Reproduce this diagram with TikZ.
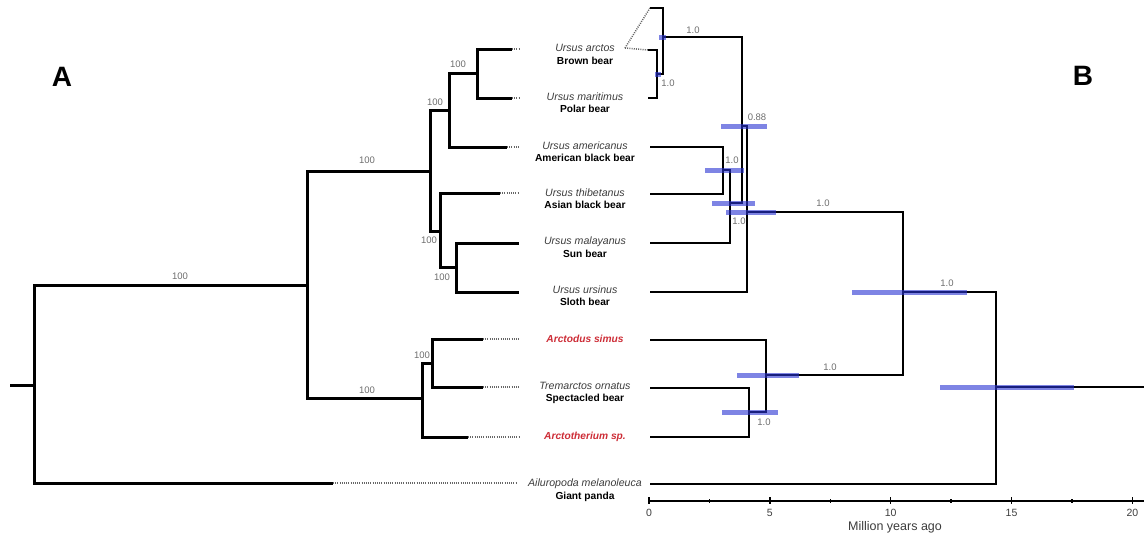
\documentclass[tikz,border=0pt]{standalone}
\usepackage{fontspec}
\setmainfont{Liberation Sans}
\definecolor{barblue}{RGB}{40,50,210}
\definecolor{extinct}{RGB}{205,45,55}
\definecolor{supgray}{RGB}{110,110,110}
\definecolor{namegray}{RGB}{60,60,60}
\newcommand{\hpd}[3]{\fill[hpdfill] (#1,#3-2.5) rectangle (#2,#3+2.5);}
\begin{document}
\begin{tikzpicture}
[x=1pt,y=-1pt,
 treeA/.style={line width=3pt},
 treeB/.style={line width=2.2pt},
 dots/.style={line width=1.5pt,draw=black!60,dash pattern=on 1pt off 1.2pt},
 hpdfill/.style={fill=barblue,opacity=0.6},
 axis/.style={line width=1.4pt},
 sci/.style={inner sep=0pt,text=namegray,font=\fontsize{10.6}{12}\selectfont\itshape},
 common/.style={inner sep=0pt,font=\fontsize{10.2}{12}\selectfont\bfseries},
 fossil/.style={inner sep=0pt,text=extinct,font=\fontsize{10.2}{12}\selectfont\bfseries\itshape},
 sup/.style={inner sep=0pt,text=supgray,font=\fontsize{9.5}{10}\selectfont},
 ticklab/.style={inner sep=0pt,text=namegray,font=\fontsize{10.5}{12}\selectfont},
 panel/.style={inner sep=0pt,font=\fontsize{28}{28}\selectfont\bfseries}]
\useasboundingbox (0,0) rectangle (1144,538);

% panel letters
\node[panel] (pA) at (62,77) {A};
\node[panel] (pB) at (1083,76) {B};

% taxa
\node[sci] (arctos) at (585,48) {Ursus arctos};
\node[common] (arctosC) at (585,61) {Brown bear};
\node[sci] (maritimus) at (585,97) {Ursus maritimus};
\node[common] (maritimusC) at (585,109) {Polar bear};
\node[sci] (americanus) at (585,146) {Ursus americanus};
\node[common] (americanusC) at (585,158) {American black bear};
\node[sci] (thibetanus) at (585,193) {Ursus thibetanus};
\node[common] (thibetanusC) at (585,205) {Asian black bear};
\node[sci] (malayanus) at (585,242) {Ursus malayanus};
\node[common] (malayanusC) at (585,254) {Sun bear};
\node[sci] (ursinus) at (585,290) {Ursus ursinus};
\node[common] (ursinusC) at (585,302) {Sloth bear};
\node[fossil] (arctodus) at (585,339) {Arctodus simus};
\node[sci] (ornatus) at (585,386) {Tremarctos ornatus};
\node[common] (ornatusC) at (585,399) {Spectacled bear};
\node[fossil] (arctotherium) at (585,437) {Arctotherium sp.};
\node[sci] (panda) at (585,484) {Ailuropoda melanoleuca};
\node[common] (pandaC) at (585,497) {Giant panda};

% tree A
\coordinate (stubA) at (10,385);
\coordinate (a0) at (34,385);
\coordinate (a1) at (307,285);
\coordinate (a2) at (430,171);
\coordinate (a3) at (449,110);
\coordinate (a4) at (477,73);
\coordinate (a5) at (440,231);
\coordinate (a6) at (456,267);
\coordinate (a7) at (422,398);
\coordinate (a8) at (432,363);
\coordinate (arctosA) at (512,49);
\coordinate (maritimusA) at (512,98);
\coordinate (americanusA) at (507,147);
\coordinate (thibetanusA) at (500,193);
\coordinate (malayanusA) at (519,243);
\coordinate (ursinusA) at (519,292);
\coordinate (arctodusA) at (483,339);
\coordinate (ornatusA) at (483,387);
\coordinate (arctotheriumA) at (468,437);
\coordinate (pandaA) at (333,483);
\draw [treeA] (stubA) -- (a0);
\draw [treeA] (a0) |- (a1) (a0) |- (pandaA);
\draw [treeA] (a1) |- (a2) (a1) |- (a7);
\draw [treeA] (a2) |- (a3) (a2) |- (a5);
\draw [treeA] (a3) |- (a4) (a3) |- (americanusA);
\draw [treeA] (a4) |- (arctosA) (a4) |- (maritimusA);
\draw [treeA] (a5) |- (thibetanusA) (a5) |- (a6);
\draw [treeA] (a6) |- (malayanusA) (a6) |- (ursinusA);
\draw [treeA] (a7) |- (a8) (a7) |- (arctotheriumA);
\draw [treeA] (a8) |- (arctodusA) (a8) |- (ornatusA);
\draw [dots] (arctosA) -- ++(7,0);
\draw [dots] (maritimusA) -- ++(7,0);
\draw [dots] (americanusA) -- ++(12,0);
\draw [dots] (thibetanusA) -- ++(19,0);
\draw [dots] (arctodusA) -- ++(37,0);
\draw [dots] (ornatusA) -- ++(37,0);
\draw [dots] (arctotheriumA) -- ++(52,0);
\draw [dots] (pandaA) -- ++(183,0);
\node[sup] (sA1) at (180,276) {100};
\node[sup] (sA2) at (367,160) {100};
\node[sup] (sA3) at (435,102) {100};
\node[sup] (sA4) at (458,64) {100};
\node[sup] (sA5) at (429,240) {100};
\node[sup] (sA6) at (442,277) {100};
\node[sup] (sA7) at (367,390) {100};
\node[sup] (sA8) at (422,355) {100};

% tree B
\coordinate (arctosB0) at (625,48);
\coordinate (arctosB1) at (648,50);
\coordinate (arctosB2) at (650,8);
\coordinate (maritimusB) at (648,98);
\coordinate (americanusB) at (650,147);
\coordinate (thibetanusB) at (650,194);
\coordinate (malayanusB) at (650,243);
\coordinate (ursinusB) at (650,292);
\coordinate (arctodusB) at (650,340);
\coordinate (ornatusB) at (650,388);
\coordinate (arctotheriumB) at (650,437);
\coordinate (pandaB) at (650,484);
\coordinate (bBP) at (657,74);
\coordinate (bArc) at (663,37);
\coordinate (bAT) at (723,170);
\coordinate (bATM) at (730,203);
\coordinate (b088) at (742,126);
\coordinate (bUrs) at (747,212);
\coordinate (bUT) at (903,292);
\coordinate (bTA) at (749,412);
\coordinate (bTr) at (766,375);
\coordinate (bRoot) at (996,387);
\coordinate (bStem) at (1144,387);
\draw [dots] (arctosB0) -- (arctosB1);
\draw [dots] (arctosB0) -- (arctosB2);
\draw [treeB] (bBP) |- (arctosB1) (bBP) |- (maritimusB);
\draw [treeB] (bArc) |- (arctosB2) (bArc) |- (bBP);
\draw [treeB] (bAT) |- (americanusB) (bAT) |- (thibetanusB);
\draw [treeB] (bATM) |- (bAT) (bATM) |- (malayanusB);
\draw [treeB] (b088) |- (bArc) (b088) |- (bATM);
\draw [treeB] (bUrs) |- (b088) (bUrs) |- (ursinusB);
\draw [treeB] (bTA) |- (ornatusB) (bTA) |- (arctotheriumB);
\draw [treeB] (bTr) |- (arctodusB) (bTr) |- (bTA);
\draw [treeB] (bUT) |- (bUrs) (bUT) |- (bTr);
\draw [treeB] (bRoot) |- (bUT) (bRoot) |- (pandaB);
\draw [treeB] (bRoot) -- (bStem);
% age intervals
\hpd{659}{666}{37}
\hpd{655}{661}{74}
\hpd{705}{744}{170}
\hpd{712}{755}{203}
\hpd{721}{767}{126}
\hpd{726}{776}{212}
\hpd{852}{967}{292}
\hpd{737}{799}{375}
\hpd{722}{778}{412}
\hpd{940}{1074}{387}
\node[sup] (sB1) at (693,30) {1.0};
\node[sup] (sB2) at (668,83) {1.0};
\node[sup] (sB3) at (757,117) {0.88};
\node[sup] (sB4) at (732,160) {1.0};
\node[sup] (sB5) at (739,221) {1.0};
\node[sup] (sB6) at (823,203) {1.0};
\node[sup] (sB7) at (947,283) {1.0};
\node[sup] (sB8) at (830,367) {1.0};
\node[sup] (sB9) at (764,422) {1.0};

% time axis
\coordinate (ax0) at (649,501);
\coordinate (ax1) at (1144,501);
\draw [axis] (ax0) -- (ax1);
\foreach \t in {0,5,...,20}{
  \draw [axis] (649+24.17*\t,497) -- (649+24.17*\t,504);
  \node[ticklab] (tick\t) at (649+24.17*\t,513) {\t};
}
\foreach \t in {2.5,7.5,12.5,17.5}
  \draw [axis] (649+24.17*\t,499) -- (649+24.17*\t,503);
\node[inner sep=0pt,text=namegray,font=\fontsize{12.5}{14}\selectfont] (xlab) at (895,527) {Million years ago};
\end{tikzpicture}
\end{document}
